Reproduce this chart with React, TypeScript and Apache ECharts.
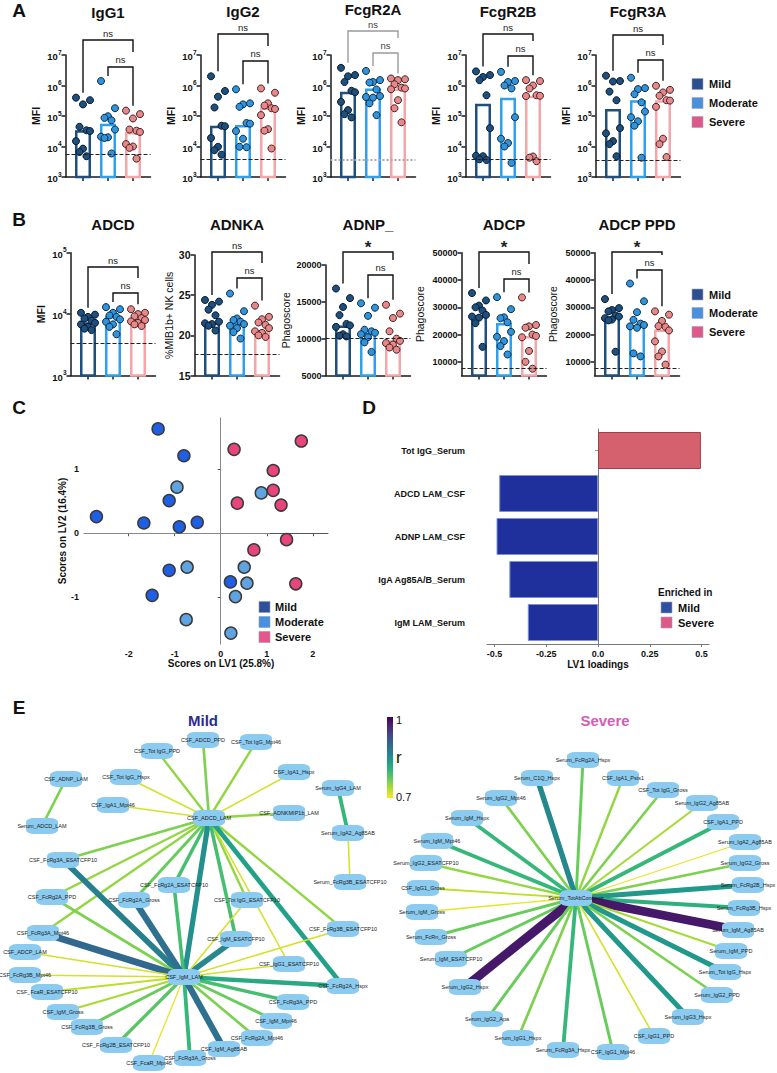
import React, { useEffect, useRef } from "react";
import * as echarts from "echarts";

const FONT = "'Liberation Sans', Arial, Helvetica, sans-serif";

// ---------------- Panel A / B data ----------------
const GROUPS = ["Mild", "Moderate", "Severe"];

const IgG1_Mild = [400000, 330000, 240000, 44000, 34000, 32000, 15000, 8500, 6600, 4800];
const IgG1_Moderate = [1400000, 180000, 98000, 87000, 72000, 36000, 21000, 20000, 19000, 5900];
const IgG1_Severe = [150000, 115000, 83000, 36000, 33000, 30000, 12000, 10000, 9000, 4000];
const IgG1_Bars = [34000, 56000, 30000];
const IgG1_Cutoff = 5500;

const IgG2_Mild = [2000000, 660000, 430000, 190000, 48000, 46000, 19000, 9800, 7600, 5400];
const IgG2_Moderate = [750000, 260000, 240000, 200000, 59000, 56000, 32000, 18000, 9800, 9500];
const IgG2_Severe = [800000, 580000, 260000, 220000, 180000, 170000, 107000, 37000, 33000, 8600];
const IgG2_Bars = [48000, 51000, 190000];
const IgG2_Cutoff = 3800;

const FcgR2A_Mild = [3800000, 2200000, 2000000, 1300000, 670000, 600000, 290000, 156000, 115000, 90000];
const FcgR2A_Moderate = [3000000, 1500000, 1300000, 1250000, 740000, 450000, 420000, 400000, 260000, 107000];
const FcgR2A_Severe = [1700000, 1600000, 1500000, 1100000, 850000, 800000, 750000, 330000, 180000, 62000];
const FcgR2A_Bars = [620000, 800000, 800000];
const FcgR2A_Cutoff = 3600;

const FcgR2B_Mild = [2900000, 2200000, 1900000, 1500000, 480000, 40000, 5000, 4800, 3800, 3600];
const FcgR2B_Moderate = [2800000, 1400000, 1300000, 1000000, 800000, 91000, 18000, 13000, 10000, 2900];
const FcgR2B_Severe = [1500000, 1400000, 1000000, 800000, 480000, 460000, 450000, 4700, 4300, 3300];
const FcgR2B_Bars = [250000, 400000, 460000];
const FcgR2B_Cutoff = 3700;

const FcgR3A_Mild = [2100000, 1400000, 1350000, 630000, 330000, 40000, 27000, 15000, 12000, 4800];
const FcgR3A_Moderate = [1800000, 820000, 760000, 520000, 280000, 140000, 91000, 67000, 48000, 4300];
const FcgR3A_Severe = [980000, 720000, 590000, 460000, 330000, 320000, 200000, 18000, 12000, 4500];
const FcgR3A_Bars = [170000, 330000, 330000];
const FcgR3A_Cutoff = 3500;

const ADCD_Mild = [10500, 9800, 9000, 8500, 7800, 7200, 6800, 6200, 5800, 5500];
const ADCD_Moderate = [13000, 12000, 10500, 9500, 9000, 8200, 7500, 6800, 6200, 4700];
const ADCD_Severe = [12000, 10500, 10000, 9200, 8600, 8000, 7600, 7200, 6800, 6400];
const ADCD_Bars = [7400, 9300, 8300];
const ADCD_Cutoff = 3400;

const ADNKA_Mild = [24.4, 24.2, 23.8, 23.2, 22.5, 21.7, 21.5, 21.4, 21.2, 20.6];
const ADNKA_Moderate = [25.2, 23.0, 22.1, 21.9, 21.7, 21.4, 21.2, 20.9, 20.4, 19.6];
const ADNKA_Severe = [23.7, 22.3, 22.0, 21.6, 21.3, 20.9, 20.5, 20.3, 20.0, 19.8];
const ADNKA_Bars = [21.6, 21.6, 20.6];
const ADNKA_Cutoff = 17.6;

const ADNP_Mild = [16800, 15500, 14300, 13200, 12000, 11800, 11600, 10600, 10400, 10300];
const ADNP_Moderate = [14800, 14200, 13100, 11200, 11000, 10800, 10600, 10200, 9500, 8200];
const ADNP_Severe = [14600, 13400, 12800, 11000, 10000, 9700, 9400, 9200, 8800, 8500];
const ADNP_Bars = [11800, 10800, 9800];
const ADNP_Cutoff = 10000;

const ADCP_Mild = [35200, 32500, 30600, 30000, 28800, 27200, 26600, 26200, 24200, 15500];
const ADCP_Moderate = [33700, 29300, 26300, 26000, 24500, 21000, 19200, 17600, 15800, 12700];
const ADCP_Severe = [33600, 23500, 23000, 22500, 20000, 19500, 19000, 14000, 10000, 7500];
const ADCP_Bars = [26900, 24200, 19500];
const ADCP_Cutoff = 7800;

const ADCPPPD_Mild = [33000, 29700, 29000, 28500, 27000, 26600, 26000, 25500, 25200, 13700];
const ADCPPPD_Moderate = [38700, 32200, 28200, 25400, 24000, 23500, 23000, 22500, 13100, 12000];
const ADCPPPD_Severe = [28500, 27300, 25000, 23100, 22800, 21500, 17500, 13800, 12000, 9000];
const ADCPPPD_Bars = [26600, 23500, 21900];
const ADCPPPD_Cutoff = 7800;

// ---------------- Panel C data (scores) ----------------
const C_Mild = [[-1.36, 1.63], [-0.8, 1.21], [-1.12, 0.51], [-2.7, 0.26], [-1.67, 0.16], [-0.9, 0.1], [-0.51, 0.17], [-1.12, -0.58], [-1.49, -0.97], [0.21, -0.76]];
const C_Moderate = [[-0.95, 0.72], [0.88, 0.63], [-0.73, -0.53], [0.51, -0.53], [0.57, -0.78], [0.32, -0.99], [-0.75, -1.35], [0.22, -1.56]];
const C_Severe = [[0.29, 1.31], [1.75, 1.44], [1.14, 0.98], [1.14, 0.67], [0.36, 0.47], [1.31, 0.44], [1.43, -0.1], [0.72, -0.26], [1.63, -0.79]];

// ---------------- Panel D data (loadings) ----------------
const D_LABELS = ["Tot IgG_Serum", "ADCD LAM_CSF", "ADNP LAM_CSF", "IgA Ag85A/B_Serum", "IgM LAM_Serum"];
const D_VALUES = [0.497, -0.477, -0.49, -0.428, -0.339];

// ---------------- Panel E networks ----------------
const MILD_NODES: [string, number, number][] = [
  ["CSF_ADCD_LAM", 209, 818], ["CSF_IgM_LAM", 184, 977], ["CSF_ADCD_PPD", 203, 740], ["CSF_Tot IgG_Mpt46", 256, 742],
  ["CSF_Tot IgG_PPD", 157, 751], ["CSF_ADNP_LAM", 66, 779], ["CSF_Tot IgG_Hspx", 126, 777], ["CSF_IgA1_Hspx", 294, 772],
  ["Serum_IgG4_LAM", 338, 788], ["CSF_IgA1_Mpt46", 113, 805], ["CSF_ADNKMIP1b_LAM", 289, 813], ["Serum_ADCD_LAM", 42, 826],
  ["Serum_IgA2_Ag85AB", 348, 833], ["CSF_FcRg3A_ESATCFP10", 63, 860], ["Serum_FcRg3B_ESATCFP10", 350, 882], ["CSF_FcRg2A_ESATCFP10", 174, 885],
  ["CSF_FcRg2A_PPD", 52, 897], ["CSF_FcRg2A_Gross", 134, 900], ["CSF_Tot IgG_ESATCFP10", 247, 900], ["CSF_FcRg3A_Mpt46", 43, 933],
  ["CSF_FcRg3B_ESATCFP10", 343, 929], ["CSF_IgM_ESATCFP10", 236, 939], ["CSF_ADCP_LAM", 25, 952], ["CSF_IgG1_ESATCFP10", 289, 964],
  ["CSF_FcRg3B_Mpt46", 25, 975], ["CSF_FcRg2A_Hspx", 343, 986], ["CSF_FcaR_ESATCFP10", 47, 992], ["CSF_FcRg3A_PPD", 293, 1002],
  ["CSF_IgM_Gross", 63, 1012], ["CSF_IgM_Mpt46", 276, 1021], ["CSF_FcRg3B_Gross", 87, 1027], ["CSF_FcRg2A_Mpt46", 257, 1038],
  ["CSF_FcRg2B_ESATCFP10", 116, 1045], ["CSF_IgM_Ag85AB", 224, 1049], ["CSF_FcRg3A_Gross", 190, 1058], ["CSF_FcaR_Mpt46", 149, 1063],
];
const MILD_EDGES: [number, number, number][] = [
  [0, 2, 0.76], [0, 3, 0.75], [0, 4, 0.75], [0, 6, 0.72], [0, 7, 0.72], [0, 9, 0.72], [0, 10, 0.75], [0, 13, 0.76],
  [0, 16, 0.75], [0, 19, 0.75], [0, 17, 0.77], [0, 15, 0.79], [0, 1, 0.85], [0, 18, 0.75], [0, 21, 0.79], [0, 23, 0.72],
  [0, 20, 0.75], [0, 25, 0.83],
  [1, 13, 0.87], [1, 16, 0.76], [1, 19, 0.9], [1, 22, 0.72], [1, 24, 0.72], [1, 26, 0.73], [1, 28, 0.74], [1, 30, 0.77],
  [1, 32, 0.78], [1, 35, 0.71], [1, 34, 0.8], [1, 33, 0.89], [1, 31, 0.76], [1, 29, 0.77], [1, 27, 0.79], [1, 25, 0.82],
  [1, 23, 0.72], [1, 20, 0.72], [1, 21, 0.86], [1, 18, 0.72], [1, 15, 0.79], [1, 17, 0.89],
  [5, 11, 0.76], [8, 12, 0.8], [12, 14, 0.72],
];
const SEVERE_NODES: [string, number, number][] = [
  ["Serum_TotAbConcentr", 576, 898], ["Serum_FcRg2A_Hspx", 583, 760], ["Serum_C1Q_Hspx", 537, 778], ["CSF_IgA1_Psts1", 623, 778],
  ["CSF_Tot IgG_Gross", 663, 790], ["Serum_IgG2_Mpt46", 501, 798], ["Serum_IgG2_Ag85AB", 702, 803], ["Serum_IgM_Hspx", 467, 818],
  ["CSF_IgA1_PPD", 723, 822], ["Serum_IgM_Mpt46", 437, 841], ["Serum_IgA2_Ag85AB", 745, 842], ["Serum_IgG2_ESATCFP10", 426, 863],
  ["Serum_IgG2_Gross", 745, 863], ["CSF_IgG1_Gross", 423, 888], ["Serum_FcRg2B_Hspx", 748, 885], ["Serum_IgM_Gross", 422, 912],
  ["Serum_FcRg3B_Hspx", 744, 908], ["Serum_FcRn_Gross", 431, 937], ["Serum_IgM_Ag85AB", 738, 930], ["Serum_IgM_ESATCFP10", 451, 959],
  ["Serum_IgM_PPD", 731, 951], ["Serum_IgG2_Hspx", 465, 987], ["Serum_Tot IgG_Hspx", 725, 972], ["Serum_IgG2_PPD", 717, 995],
  ["Serum_IgG2_Apa", 487, 1019], ["Serum_IgG3_Hspx", 688, 1017], ["Serum_IgG1_Hspx", 518, 1038], ["CSF_IgG1_PPD", 654, 1036],
  ["Serum_FcRg3A_Hspx", 563, 1050], ["CSF_IgG1_Mpt46", 613, 1052],
];
const SEVERE_EDGES: [number, number, number][] = [
  [0, 1, 0.77], [0, 2, 0.86], [0, 3, 0.75], [0, 4, 0.76], [0, 5, 0.76], [0, 6, 0.74], [0, 7, 0.8], [0, 8, 0.8],
  [0, 9, 0.8], [0, 10, 0.71], [0, 11, 0.75], [0, 12, 0.76], [0, 13, 0.73], [0, 14, 0.84], [0, 15, 0.71], [0, 16, 0.81],
  [0, 17, 0.77], [0, 18, 0.98], [0, 19, 0.77], [0, 20, 0.74], [0, 21, 0.98], [0, 22, 0.84], [0, 23, 0.76], [0, 24, 0.77],
  [0, 25, 0.84], [0, 26, 0.76], [0, 27, 0.72], [0, 28, 0.8], [0, 29, 0.77],
];

// ---------------- styles ----------------
const AX = "#1a1a1a";
const DOT_FILL = ["#1d4f7f", "#2f94db", "#e6898b"];
const DOT_EDGE = ["#0a1a2a", "#0d2a45", "#4a2020"];
const BAR_EDGE = ["#1f4f7e", "#2fa0ec", "#f4a6a8"];
const LEG_COL = ["#2d4f8e", "#4a90dc", "#e0588a"];
const JIT = [-0.28, 0.28, 0.0, -0.14, 0.14, 0.28, -0.28, 0.0, -0.14, 0.14];
const VIRIDIS = ["#440154", "#482878", "#3e4989", "#31688e", "#26828e", "#1f9e89", "#35b779", "#6ece58", "#b5de2b", "#fde725"];

function viridis(r: number) {
  const t = Math.min(1, Math.max(0, (1 - r) / 0.3));
  return echarts.color.lerp(t, VIRIDIS) as string;
}

type YCfg = { type: "log" | "value"; min: number; max: number; interval?: number; custom?: number[]; fs: number; name: string; nameGap: number; nameBold: boolean };

const PANELS = [
  { title: "IgG1", d: [IgG1_Mild, IgG1_Moderate, IgG1_Severe], bars: IgG1_Bars, cut: IgG1_Cutoff, sig: ["ns", "ns"] },
  { title: "IgG2", d: [IgG2_Mild, IgG2_Moderate, IgG2_Severe], bars: IgG2_Bars, cut: IgG2_Cutoff, sig: ["ns", "ns"] },
  { title: "FcgR2A", d: [FcgR2A_Mild, FcgR2A_Moderate, FcgR2A_Severe], bars: FcgR2A_Bars, cut: FcgR2A_Cutoff, sig: ["ns", "ns"] },
  { title: "FcgR2B", d: [FcgR2B_Mild, FcgR2B_Moderate, FcgR2B_Severe], bars: FcgR2B_Bars, cut: FcgR2B_Cutoff, sig: ["ns", "ns"] },
  { title: "FcgR3A", d: [FcgR3A_Mild, FcgR3A_Moderate, FcgR3A_Severe], bars: FcgR3A_Bars, cut: FcgR3A_Cutoff, sig: ["ns", "ns"] },
  { title: "ADCD", d: [ADCD_Mild, ADCD_Moderate, ADCD_Severe], bars: ADCD_Bars, cut: ADCD_Cutoff, sig: ["ns", "ns"] },
  { title: "ADNKA", d: [ADNKA_Mild, ADNKA_Moderate, ADNKA_Severe], bars: ADNKA_Bars, cut: ADNKA_Cutoff, sig: ["ns", "ns"] },
  { title: "ADNP_", d: [ADNP_Mild, ADNP_Moderate, ADNP_Severe], bars: ADNP_Bars, cut: ADNP_Cutoff, sig: ["*", "ns"] },
  { title: "ADCP", d: [ADCP_Mild, ADCP_Moderate, ADCP_Severe], bars: ADCP_Bars, cut: ADCP_Cutoff, sig: ["*", "ns"] },
  { title: "ADCP PPD", d: [ADCPPPD_Mild, ADCPPPD_Moderate, ADCPPPD_Severe], bars: ADCPPPD_Bars, cut: ADCPPPD_Cutoff, sig: ["*", "ns"] },
];

const LOGA: YCfg = { type: "log", min: 1e3, max: 1e7, fs: 9.5, name: "MFI", nameGap: 24, nameBold: true };
const Y_CFG: YCfg[] = [
  LOGA, LOGA, LOGA, LOGA, LOGA,
  { type: "log", min: 1e3, max: 1e5, fs: 9.5, name: "MFI", nameGap: 24, nameBold: true },
  { type: "value", min: 15, max: 30, interval: 5, fs: 10.5, name: "%MIB1b+ NK cells", nameGap: 15, nameBold: false },
  { type: "value", min: 5000, max: 20000, interval: 5000, fs: 9, name: "Phagoscore", nameGap: 34, nameBold: false },
  { type: "value", min: 5000, max: 50000, custom: [10000, 20000, 30000, 40000, 50000], fs: 9, name: "Phagoscore", nameGap: 36, nameBold: false },
  { type: "value", min: 5000, max: 50000, custom: [10000, 20000, 30000, 40000, 50000], fs: 9, name: "Phagoscore", nameGap: 36, nameBold: false },
];
// layout: [left, top, bottom, outerBracketTop, innerBracketTop, titleY]
const LAYOUT = [
  [65.5, 55, 177, 40, 67, 12], [200.5, 55, 177, 34, 61, 11], [330.5, 55, 177, 31, 53, 9], [465.5, 55, 177, 34, 56, 11], [595.5, 55, 177, 35, 60, 11],
  [70.5, 252.7, 375.5, 267, 293, 224], [194.5, 255, 375.5, 252, 278, 224], [325.5, 265, 375.5, 252, 275, 224], [461.5, 252.7, 375.5, 252, 279, 224], [594.5, 252.7, 375.5, 252, 270, 224],
];
const PW = 85;

function buildOption() {
  const grid: any[] = [];
  const xAxis: any[] = [];
  const yAxis: any[] = [];
  const series: any[] = [];
  const g: any[] = [];

  const txt = (text: string, x: number, y: number, font: string, fill = "#111", align = "center", extra: any = {}) =>
    g.push({ type: "text", x, y, silent: true, style: { text, font, fill, align, verticalAlign: "middle", ...extra } });

  PANELS.forEach((p, i) => {
    const [L, T, Bt, oT, iT, tY] = LAYOUT[i];
    const H = Bt - T;
    const yc = Y_CFG[i];
    const grey = p.title === "FcgR2A";
    grid.push({ left: L, top: T, width: PW, height: H, outerBoundsMode: "none" });
    xAxis.push({
      gridIndex: i, type: "value", min: 0.3, max: 3.7,
      axisLine: { show: true, lineStyle: { color: AX, width: 1.5 } },
      axisTick: { show: true, customValues: [1, 2, 3], length: 4, lineStyle: { color: AX, width: 1.5 } },
      axisLabel: { show: false }, splitLine: { show: false },
    });
    const yLabel: any = { fontSize: yc.fs, fontWeight: "bold", color: "#111", margin: 4, fontFamily: FONT };
    if (yc.type === "log") {
      yLabel.formatter = (v: number) => "{b|10}{s|" + Math.round(Math.log10(v)) + "}";
      yLabel.rich = {
        b: { fontSize: 9.5, fontWeight: "bold", color: "#111", fontFamily: FONT, lineHeight: 13, verticalAlign: "bottom" },
        s: { fontSize: 6.5, fontWeight: "bold", color: "#111", fontFamily: FONT, verticalAlign: "top" },
      };
    } else {
      yLabel.formatter = (v: number) => String(v);
    }
    if (yc.custom) yLabel.customValues = yc.custom;
    yAxis.push({
      gridIndex: i, type: yc.type, logBase: 10, min: yc.min, max: yc.max,
      ...(yc.interval ? { interval: yc.interval } : {}),
      axisLine: { show: true, lineStyle: { color: AX, width: 1.5 } },
      axisTick: { show: true, length: 4, lineStyle: { color: AX, width: 1.5 }, ...(yc.custom ? { customValues: yc.custom } : {}) },
      axisLabel: yLabel, splitLine: { show: false },
      name: yc.name, nameLocation: "middle", nameGap: yc.nameGap, nameRotate: 90,
      nameTextStyle: { fontSize: 10.5, fontWeight: yc.nameBold ? "bold" : "normal", color: "#111", fontFamily: FONT },
    });
    series.push({
      type: "bar", xAxisIndex: i, yAxisIndex: i, barWidth: 16, z: 2,
      data: p.bars.map((v, k) => ({ value: [k + 1, v], itemStyle: { color: "#ffffff", borderColor: BAR_EDGE[k], borderWidth: 2.5 } })),
      markLine: {
        silent: true, symbol: ["none", "none"], label: { show: false },
        lineStyle: { type: grey ? "dotted" : "dashed", color: grey ? "#aaaaaa" : "#222", width: grey ? 2 : 1 },
        data: [{ yAxis: p.cut }],
      },
    });
    p.d.forEach((vals, k) => {
      series.push({
        type: "scatter", name: GROUPS[k], xAxisIndex: i, yAxisIndex: i, symbolSize: 7, z: 4,
        itemStyle: { color: DOT_FILL[k], borderColor: DOT_EDGE[k], borderWidth: 1, opacity: 1 },
        data: vals.map((v, j) => [k + 1 + JIT[j], v]),
      });
    });
    // annotations (brackets)
    const xp = (v: number) => L + ((v - 0.3) / 3.4) * PW;
    const yp = (v: number) =>
      yc.type === "log"
        ? T + ((Math.log10(yc.max) - Math.log10(v)) / (Math.log10(yc.max) - Math.log10(yc.min))) * H
        : T + ((yc.max - v) / (yc.max - yc.min)) * H;
    const mx = p.d.map((a) => Math.max(...a));
    const stroke = grey ? "#9a9a9a" : "#111";
    g.push({ type: "polyline", silent: true, shape: { points: [[xp(1), yp(mx[0]) - 5], [xp(1), oT], [xp(3), oT], [xp(3), iT - 15]] }, style: { stroke, lineWidth: 1.4, fill: "none" } });
    g.push({ type: "polyline", silent: true, shape: { points: [[xp(2), yp(mx[1]) - 5], [xp(2), iT], [xp(3), iT], [xp(3), yp(mx[2]) - 5]] }, style: { stroke, lineWidth: 1.4, fill: "none" } });
    const sigFont = (s: string) => (s === "*" ? `bold 17px ${FONT}` : `9.5px ${FONT}`);
    txt(p.sig[0], (xp(1) + xp(3)) / 2, p.sig[0] === "*" ? oT - 5 : oT - 7, sigFont(p.sig[0]), grey ? "#444" : "#222");
    txt(p.sig[1], (xp(2) + xp(3)) / 2, iT - 8, sigFont(p.sig[1]), grey ? "#444" : "#222");
    txt(p.title, xp(2), tY, `bold 15px ${FONT}`);
  });

  // legends A and B
  [[84, 103, 122], [294.5, 313, 332]].forEach((ys) => {
    ys.forEach((y, k) => {
      g.push({ type: "rect", silent: true, shape: { x: 692, y: y - 5.5, width: 11, height: 11 }, style: { fill: LEG_COL[k], stroke: "#9aa4b8", lineWidth: 0.6 } });
      txt(GROUPS[k], 709, y, `bold 11px ${FONT}`, "#111", "left");
    });
  });

  // ---------- Panel C ----------
  const ci = grid.length;
  grid.push({ left: 84, top: 418, width: 244, height: 226, outerBoundsMode: "none" });
  xAxis.push({
    gridIndex: ci, type: "value", min: -2.97, max: 2.33,
    axisLine: { show: true, lineStyle: { color: "#555", width: 1 } },
    axisTick: { show: true, length: 3, customValues: [-2, -1, 0, 1, 2], lineStyle: { color: "#555" } },
    axisLabel: { customValues: [-2, -1, 0, 1, 2], fontSize: 9, fontWeight: "bold", color: "#111", margin: 5, fontFamily: FONT },
    splitLine: { show: false },
    name: "Scores on LV1 (25.8%)", nameLocation: "middle", nameGap: 14,
    nameTextStyle: { fontSize: 10, fontWeight: "bold", color: "#111", fontFamily: FONT, padding: [0, 0, 0, 30] },
  });
  yAxis.push({
    gridIndex: ci, type: "value", min: -1.73, max: 1.8,
    axisLine: { show: true, lineStyle: { color: "#555", width: 1 } },
    axisTick: { show: true, length: 3, customValues: [-1, 0, 1], lineStyle: { color: "#555" } },
    axisLabel: { customValues: [-1, 0, 1], fontSize: 9, fontWeight: "bold", color: "#111", margin: 5, fontFamily: FONT },
    splitLine: { show: false },
    name: "Scores on LV2 (16.4%)", nameLocation: "middle", nameGap: 12, nameRotate: 90,
    nameTextStyle: { fontSize: 10, fontWeight: "bold", color: "#111", fontFamily: FONT },
  });
  const C_FILL = ["#1f5fe6", "#5fa3e0", "#e8457a"];
  [C_Mild, C_Moderate, C_Severe].forEach((d, k) => {
    series.push({
      type: "scatter", name: "C" + GROUPS[k], xAxisIndex: ci, yAxisIndex: ci, symbolSize: 12, z: 4,
      itemStyle: { color: C_FILL[k], borderColor: "#3a3a3a", borderWidth: 1.5, opacity: 1 },
      data: d,
      ...(k === 0
        ? {
            markLine: {
              silent: true, symbol: ["none", "none"], label: { show: false }, z: 1,
              lineStyle: { color: "#888", width: 1, type: "solid" },
              data: [
                [{ coord: [-2.97, 0] }, { coord: [1.07, 0] }],
                [{ coord: [0, -1.73] }, { coord: [0, 1.8] }],
              ],
            },
          }
        : {}),
    });
  });
  const CLEG = ["#2f4f9a", "#4a90e2", "#e8558a"];
  [607, 622, 637].forEach((y, k) => {
    g.push({ type: "rect", silent: true, shape: { x: 259, y: y - 5.5, width: 11, height: 11 }, style: { fill: CLEG[k], stroke: "#8f9ab0", lineWidth: 0.6 } });
    txt(GROUPS[k], 275, y, `bold 11px ${FONT}`, "#111", "left");
  });

  // ---------- Panel D ----------
  const di = grid.length;
  grid.push({ left: 487, top: 429, width: 222, height: 215, outerBoundsMode: "none" });
  const dTicks = [-0.5, -0.25, 0, 0.25, 0.5];
  xAxis.push({
    gridIndex: di, type: "value", min: -0.536, max: 0.536,
    axisLine: { show: true, lineStyle: { color: "#777", width: 1 } },
    axisTick: { show: true, length: 3, customValues: dTicks, lineStyle: { color: "#777" } },
    axisLabel: { customValues: dTicks, formatter: (v: number) => (v === 0 ? "0.0" : String(v)), fontSize: 9, fontWeight: "bold", color: "#111", margin: 5, fontFamily: FONT },
    splitLine: { show: false },
    name: "LV1 loadings", nameLocation: "middle", nameGap: 15,
    nameTextStyle: { fontSize: 10, fontWeight: "bold", color: "#111", fontFamily: FONT },
  });
  yAxis.push({
    gridIndex: di, type: "category", data: D_LABELS, inverse: true,
    axisLine: { show: true, lineStyle: { color: "#777", width: 1 } },
    axisTick: { show: true, length: 3, alignWithLabel: true, lineStyle: { color: "#999" } },
    axisLabel: { fontSize: 9, fontWeight: "bold", color: "#111", margin: 22, fontFamily: FONT },
    splitLine: { show: false },
  });
  series.push({
    type: "bar", xAxisIndex: di, yAxisIndex: di, barWidth: 37,
    data: D_VALUES.map((v) => ({
      value: v,
      itemStyle: v > 0 ? { color: "#d5616f", borderColor: "#a0404c", borderWidth: 1 } : { color: "#1f2f9c", borderColor: "#7a90d8", borderWidth: 1 },
    })),
  });
  txt("Enriched in", 658, 592, `bold 10px ${FONT}`, "#111", "left");
  [["Mild", "#2f4fa0", 607.5], ["Severe", "#e0588a", 622.5]].forEach(([n, c, y]: any) => {
    g.push({ type: "rect", silent: true, shape: { x: 661, y: y - 5.5, width: 11, height: 11 }, style: { fill: c, stroke: "#9aa4b8", lineWidth: 0.6 } });
    txt(n, 678, y, `bold 11px ${FONT}`, "#111", "left");
  });

  // ---------- Panel E ----------
  const graph = (nodes: [string, number, number][], edges: [number, number, number][]) => {
    const xs = nodes.map((n) => n[1]);
    const ys = nodes.map((n) => n[2]);
    const minX = Math.min(...xs), maxX = Math.max(...xs), minY = Math.min(...ys), maxY = Math.max(...ys);
    return {
      type: "graph", layout: "none", roam: false, silent: true,
      left: minX, top: minY, width: maxX - minX, height: maxY - minY,
      symbol: "roundRect", symbolSize: [32, 16],
      itemStyle: { color: "#8ccbf0", borderWidth: 0 },
      label: { show: true, position: "inside", fontSize: 5.5, color: "#1a1a1a", fontFamily: FONT },
      lineStyle: { curveness: 0, opacity: 1 },
      emphasis: { disabled: true },
      data: nodes.map((n, i) => ({ id: "n" + i, name: n[0], x: n[1], y: n[2] })),
      links: edges.map(([s, t, r]) => ({ source: s, target: t, lineStyle: { color: viridis(r), width: 1 + (r - 0.7) * 28, opacity: 1 } })),
    };
  };
  series.push(graph(MILD_NODES, MILD_EDGES));
  series.push(graph(SEVERE_NODES, SEVERE_EDGES));
  txt("Mild", 203, 720, `bold 15px ${FONT}`, "#2b2d8e");
  txt("Severe", 605, 720, `bold 15px ${FONT}`, "#d45db8");
  g.push({
    type: "rect", silent: true, shape: { x: 387, y: 717, width: 6, height: 81 },
    style: { fill: new echarts.graphic.LinearGradient(0, 0, 0, 1, VIRIDIS.map((c, i) => ({ offset: i / (VIRIDIS.length - 1), color: c }))) },
  });
  txt("1", 396, 720, `11px ${FONT}`, "#111", "left");
  txt("r", 396, 757, `17px ${FONT}`, "#111", "left");
  txt("0.7", 396, 797, `11px ${FONT}`, "#111", "left");

  // panel letters
  txt("A", 19, 10, `bold 19px ${FONT}`);
  txt("B", 19, 219, `bold 19px ${FONT}`);
  txt("C", 19, 407, `bold 19px ${FONT}`);
  txt("D", 369, 407, `bold 19px ${FONT}`);
  txt("E", 19, 707, `bold 19px ${FONT}`);

  return {
    animation: false,
    backgroundColor: "#ffffff",
    textStyle: { fontFamily: FONT },
    grid, xAxis, yAxis, series,
    graphic: { elements: g },
  };
}

export default function App() {
  const ref = useRef<HTMLDivElement>(null);
  useEffect(() => {
    const chart = echarts.init(ref.current!, null, { renderer: "svg", width: 777, height: 1073 });
    chart.setOption(buildOption() as any);
    return () => chart.dispose();
  }, []);
  return <div ref={ref} style={{ position: "absolute", left: 0, top: 0, width: 777, height: 1073, background: "#fff" }} />;
}
